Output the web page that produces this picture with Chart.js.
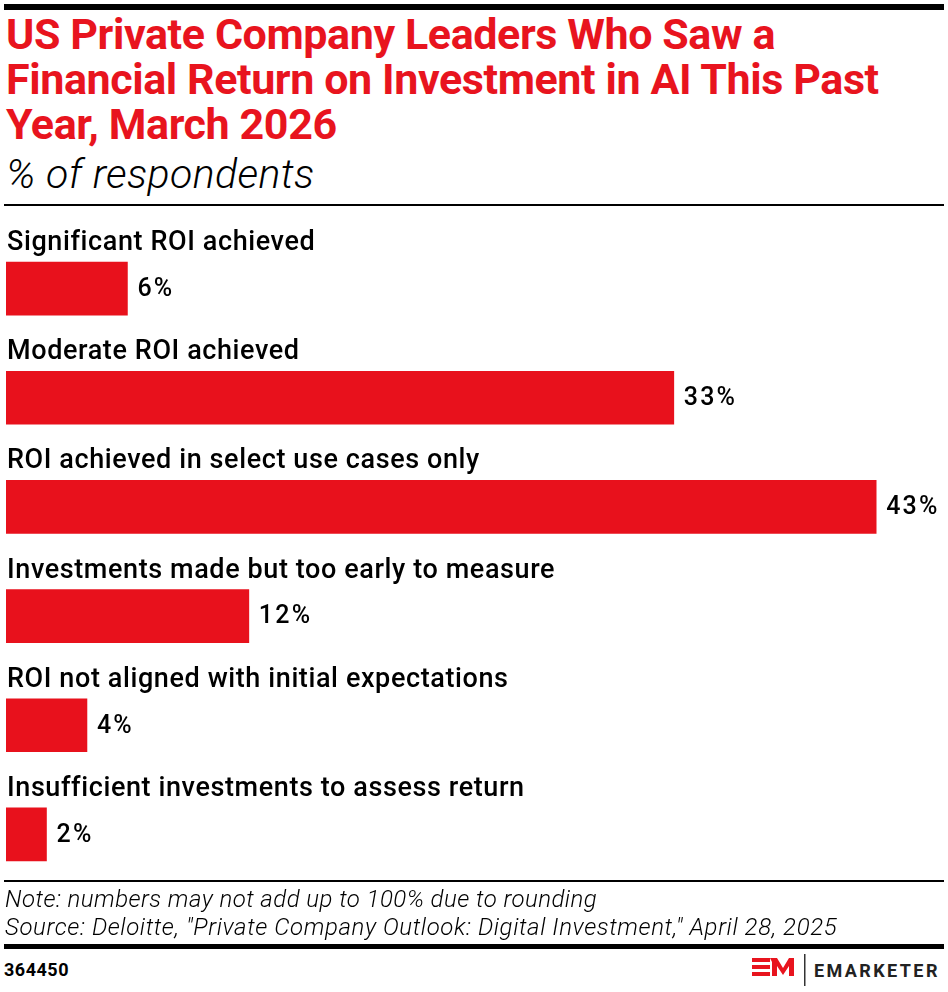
<!DOCTYPE html>
<html lang="en">
<head>
    <meta charset="UTF-8" />
    <title>US Private Company Leaders Who Saw a Financial Return on Investment in AI</title>
    <script src="https://cdn.jsdelivr.net/npm/chart.js"></script>
    <style>
        html, body {
            margin: 0;
            padding: 0;
            background: #fff;
        }
        body {
            width: 948px;
            height: 992px;
            position: relative;
            overflow: hidden;
            font-family: 'Roboto', sans-serif;
            color: #000;
        }
        .rule {
            position: absolute;
            left: 4px;
            width: 940px;
            background: #000;
        }
        #titulo {
            position: absolute;
            left: 6px;
            top: 12px;
            margin: 0;
            font-size: 43px;
            line-height: 45px;
            font-weight: 700;
            letter-spacing: -0.4px;
            color: #e8141e;
        }
        #subtitulo {
            position: absolute;
            left: 6px;
            top: 150px;
            margin: 0;
            font-size: 41px;
            line-height: 48px;
            font-style: italic;
            font-weight: 300;
            letter-spacing: 0.4px;
        }
        #grafico {
            position: absolute;
            left: 0;
            top: 210px;
            width: 948px;
            height: 679px;
        }
        #notas {
            position: absolute;
            left: 5px;
            top: 885px;
            font-size: 24px;
            line-height: 28px;
            font-style: italic;
            font-weight: 300;
            letter-spacing: 0.45px;
        }
        #codigo {
            position: absolute;
            left: 4px;
            top: 959px;
            font-size: 18px;
            font-weight: 700;
            letter-spacing: 0.5px;
        }
        #logo {
            position: absolute;
            left: 750px;
            top: 954px;
        }
    </style>
</head>
<body>
    <div class="rule" style="top:4px;height:6px;"></div>
    <h1 id="titulo">US Private Company Leaders Who Saw a<br>Financial Return on Investment in AI This Past<br>Year, March 2026</h1>
    <p id="subtitulo">% of respondents</p>
    <div class="rule" style="top:204px;height:2px;"></div>

    <canvas id="grafico" width="948" height="679"></canvas>

    <div class="rule" style="top:880px;height:2px;"></div>
    <div id="notas">Note: numbers may not add up to 100% due to rounding<br><span style="letter-spacing:0.6px">Source: Deloitte, "Private Company Outlook: Digital Investment," April 28, 2025</span></div>
    <div class="rule" style="top:944px;height:5px;"></div>
    <div id="codigo">364450</div>
    <svg id="logo" width="198" height="34" viewBox="0 0 198 34">
        <rect x="2" y="4" width="18" height="4" fill="#e8141e"/>
        <rect x="2" y="11" width="18" height="4" fill="#e8141e"/>
        <rect x="2" y="18" width="18" height="4" fill="#e8141e"/>
        <polygon points="20,4 27,4 33,14 39,4 44,4 44,22 39,22 39,12 33,21 27,12 27,22 22,22 22,8" fill="#e8141e"/>
        <rect x="54" y="0" width="1.5" height="32" fill="#333"/>
        <text x="64" y="23" font-family="Roboto, sans-serif" font-weight="700" font-size="18" letter-spacing="2.4" fill="#222">EMARKETER</text>
    </svg>

    <script>
        const categorias = [
            "Significant ROI achieved",
            "Moderate ROI achieved",
            "ROI achieved in select use cases only",
            "Investments made but too early to measure",
            "ROI not aligned with initial expectations",
            "Insufficient investments to assess return"
        ];
        const porcentajes = [6, 33, 43, 12, 4, 2];
        const etiquetasValor = ["6%", "33%", "43%", "12%", "4%", "2%"];

        const rojo = '#e8111c';

        // etiquetas de categoria encima de cada barra y valor a la derecha
        const etiquetasPlugin = {
            id: 'etiquetas',
            afterDatasetsDraw(chart) {
                const ctx = chart.ctx;
                const meta = chart.getDatasetMeta(0);
                ctx.save();
                meta.data.forEach((barra, i) => {
                    const arriba = barra.y - barra.height / 2;
                    ctx.fillStyle = '#000';
                    ctx.textAlign = 'left';
                    ctx.textBaseline = 'alphabetic';
                    ctx.font = '500 27px Roboto, sans-serif';
                    ctx.letterSpacing = '0.6px';
                    ctx.fillText(categorias[i], chart.chartArea.left + 1, arriba - 12);

                    ctx.font = '500 25px Roboto, sans-serif';
                    ctx.letterSpacing = '2.2px';
                    ctx.textBaseline = 'middle';
                    ctx.fillText(etiquetasValor[i], barra.x + 10, barra.y + 1);
                });
                ctx.restore();
            }
        };

        new Chart(document.getElementById('grafico'), {
            type: 'bar',
            data: {
                labels: categorias,
                datasets: [{
                    data: porcentajes,
                    backgroundColor: rojo,
                    borderWidth: 0,
                    barThickness: 53
                }]
            },
            options: {
                indexAxis: 'y',
                responsive: false,
                animation: false,
                layout: {
                    padding: { left: 6, right: 1, top: 24, bottom: 0 }
                },
                plugins: {
                    legend: { display: false },
                    tooltip: { enabled: false }
                },
                scales: {
                    x: {
                        display: false,
                        min: 0,
                        max: 46.5
                    },
                    y: {
                        display: false
                    }
                }
            },
            plugins: [etiquetasPlugin]
        });
    </script>
</body>
</html>
